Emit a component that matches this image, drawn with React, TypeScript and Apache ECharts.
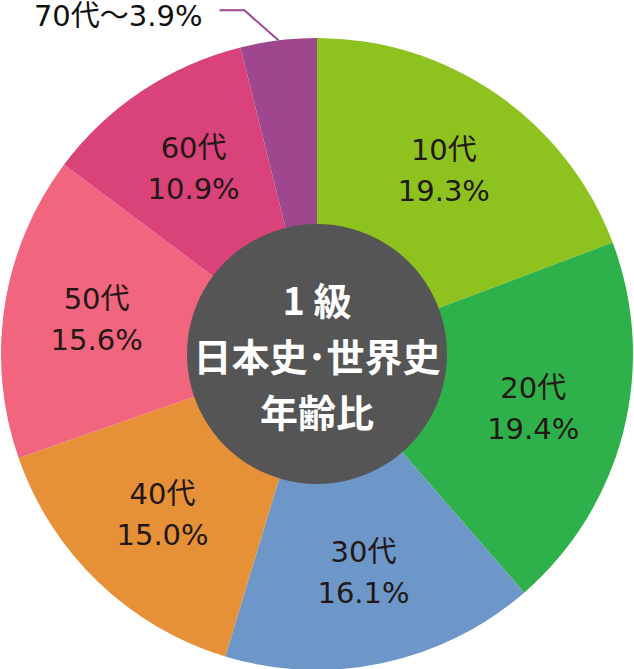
import { useEffect, useRef } from 'react';
import * as echarts from 'echarts';

const ageGroups = ['10代', '20代', '30代', '40代', '50代', '60代', '70代～'];
const shares = [19.3, 19.4, 16.1, 15.0, 15.6, 10.9, 3.9];
const sliceColors = ['#8dc21f', '#2eb14a', '#6c97c8', '#e69138', '#f2657e', '#d9437a', '#9e468e'];
const centerLines = ['1 級', '日本史･世界史', '年齢比'];

const LABEL_FONT = '"DejaVu Sans", "Noto Sans CJK JP", sans-serif';
const TITLE_FONT = '"Noto Sans CJK JP", "Noto Sans", sans-serif';

export default function App() {
  const chartRef = useRef<HTMLDivElement>(null);

  useEffect(() => {
    if (!chartRef.current) return;
    const chart = echarts.init(chartRef.current, undefined, { renderer: 'svg' });

    const last = ageGroups.length - 1;
    const option: echarts.EChartsOption = {
      animation: false,
      backgroundColor: '#ffffff',
      series: [
        {
          type: 'pie',
          center: [317, 354],
          radius: [124, 316],
          startAngle: 90,
          clockwise: true,
          silent: true,
          label: {
            position: 'inside',
            formatter: (p: any) => `${p.name}\n${p.value.toFixed(1)}%`,
            color: '#231815',
            fontFamily: LABEL_FONT,
            fontSize: 29,
            lineHeight: 41,
          },
          // the small 70代 slice gets an outside label with an elbowed leader line
          labelLayout: (params: any) => {
            if (params.dataIndex !== last || !params.labelLinePoints) return {};
            const p0 = params.labelLinePoints[0];
            const elbow = [p0[0] - 34, p0[1] - 30];
            const end = [elbow[0] - 25, elbow[1]];
            return {
              x: end[0] - 17,
              y: end[1] + 6,
              align: 'right',
              verticalAlign: 'middle',
              labelLinePoints: [p0, elbow, end],
            };
          },
          data: ageGroups.map((name, i) => ({
            name,
            value: shares[i],
            itemStyle: { color: sliceColors[i] },
            ...(i === last
              ? {
                  label: {
                    position: 'outside',
                    formatter: (p: any) => `${p.name}${p.value.toFixed(1)}%`,
                    color: '#111111',
                    fontSize: 29,
                    lineHeight: 24,
                  },
                  labelLine: {
                    show: true,
                    length: 32,
                    length2: 26,
                    lineStyle: { color: sliceColors[i], width: 2 },
                  },
                }
              : {}),
          })),
        },
        {
          type: 'pie',
          center: [317, 354],
          radius: [0, 130],
          silent: true,
          label: {
            position: 'center',
            formatter: centerLines.join('\n'),
            color: '#ffffff',
            fontFamily: TITLE_FONT,
            fontSize: 38,
            fontWeight: 'bold',
            lineHeight: 56,
            padding: [0, 0, 10, 0],
          },
          labelLine: { show: false },
          data: [{ name: 'center', value: 1, itemStyle: { color: '#555555' } }],
        },
      ],
    };

    chart.setOption(option);
    return () => {
      chart.dispose();
    };
  }, []);

  return (
    <div
      ref={chartRef}
      style={{ position: 'fixed', left: 0, top: 0, width: '634px', height: '669px' }}
    />
  );
}
